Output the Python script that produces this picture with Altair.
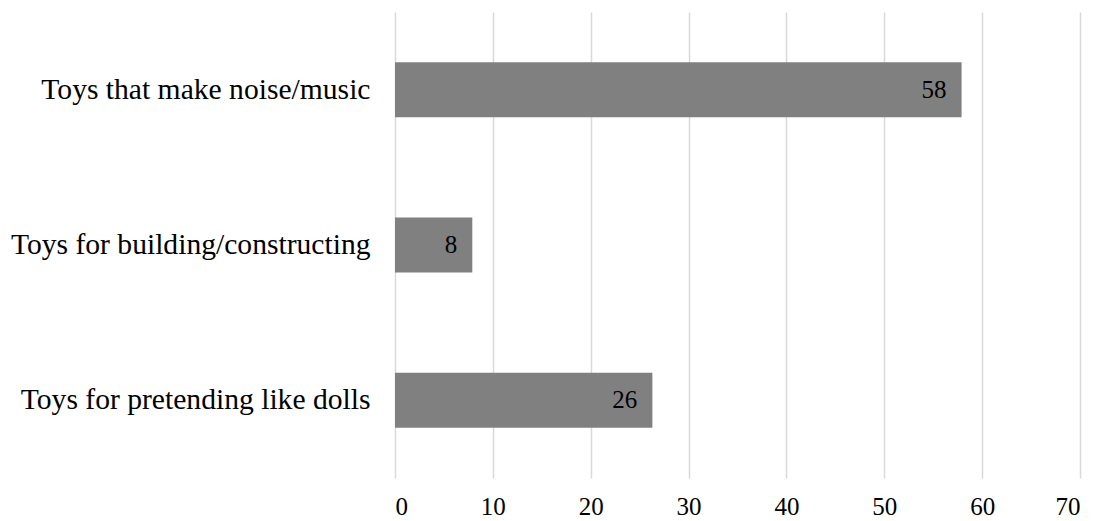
import altair as alt
import pandas as pd

categories = ["Toys that make noise/music", "Toys for building/constructing", "Toys for pretending like dolls"]
values = [57.9, 7.9, 26.3]
labels = ["58", "8", "26"]

df = pd.DataFrame({"category": categories, "value": values, "label": labels})

FONT = "Times New Roman, Liberation Serif, serif"

y_enc = alt.Y("category:N", sort=categories, title=None,
              scale=alt.Scale(paddingInner=0.646, paddingOuter=0.323),
              axis=alt.Axis(labelFont=FONT, labelFontSize=29.6, labelColor="#000000",
                            labelPadding=25, ticks=False, domain=False, grid=False,
                            labelLimit=500))

bars = alt.Chart(df).mark_bar(color="#808080").encode(
    x=alt.X("value:Q", title=None,
            scale=alt.Scale(domain=[0, 70], nice=False),
            axis=alt.Axis(values=[0, 10, 20, 30, 40, 50, 60, 70], labelFont=FONT,
                          labelFontSize=25, labelColor="#000000", ticks=False,
                          domain=False, grid=True, gridColor="#d9d9d9",
                          gridWidth=1.5, labelPadding=16)),
    y=y_enc,
)

text = alt.Chart(df).mark_text(font=FONT, fontSize=25, color="#000000",
                               align="right", dx=-15, baseline="middle").encode(
    x="value:Q",
    y=alt.Y("category:N", sort=categories),
    text="label:N",
)

chart = (bars + text).properties(
    width=685, height=466,
    padding={"left": 395, "top": 12, "right": 19, "bottom": 43},
    autosize=alt.AutoSizeParams(type="none"),
    background="#ffffff",
).configure_view(strokeWidth=0, stroke="transparent")

chart.save("out.html", embed_options={"renderer": "svg", "actions": False})
